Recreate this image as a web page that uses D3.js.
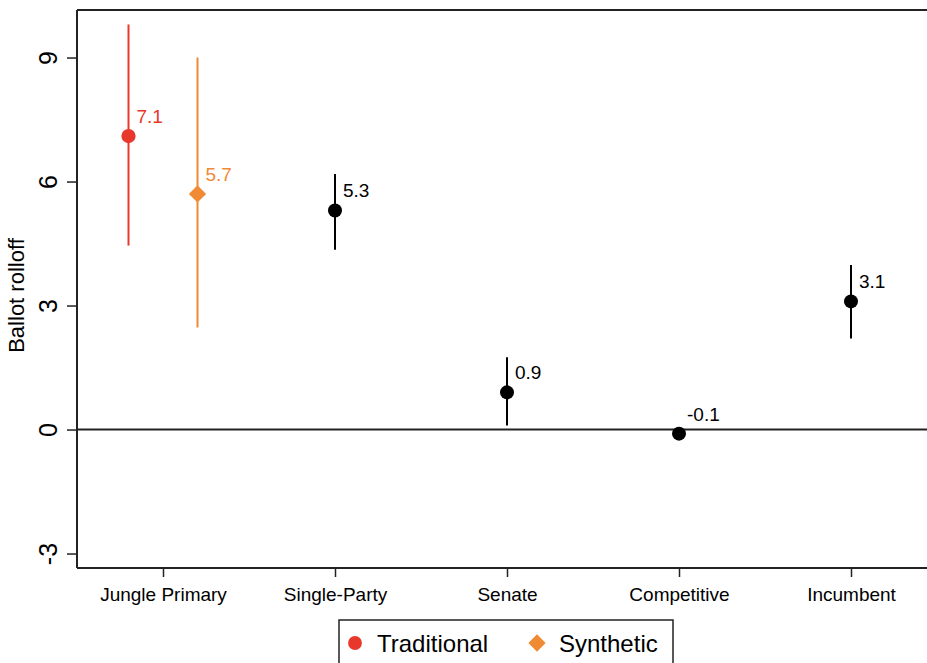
<!DOCTYPE html>
<html>
<head>
<meta charset="utf-8">
<script src="https://cdn.jsdelivr.net/npm/d3@7"></script>
<style>
  body { margin: 0; background: #fff; }
  svg { font-family: "Liberation Sans", Arial, Helvetica, sans-serif; }
</style>
</head>
<body>
<div id="chart"></div>
<script>
// categories on the x axis
var categories = ["Jungle Primary", "Single-Party", "Senate", "Competitive", "Incumbent"];
var yTicks = [-3, 0, 3, 6, 9];

// jungle primary estimates (two methods)
var jungleSeries = ["Traditional", "Synthetic"];
var jungleEst = [7.1, 5.7];
var jungleLo = [4.45, 2.47];
var jungleHi = [9.8, 9.0];
var jungleColors = ["#e8382b", "#f08a35"];

// other estimates
var otherCats = ["Single-Party", "Senate", "Competitive", "Incumbent"];
var otherEst = [5.3, 0.9, -0.1, 3.1];
var otherLo = [4.35, 0.1, -0.25, 2.2];
var otherHi = [6.18, 1.75, 0.05, 3.98];

var margin = { top: 10, right: 0, bottom: 95, left: 77 },
  width = 927 - margin.left - margin.right,
  height = 663 - margin.top - margin.bottom;

var svg = d3.select("#chart")
  .append("svg")
  .attr("width", 927)
  .attr("height", 663)
  .append("g")
  .attr("transform", "translate(" + margin.left + "," + margin.top + ")");

var y = d3.scaleLinear().domain([-3.35, 10.15]).range([height, 0]);
var x = d3.scalePoint().domain(categories).range([86, 774]);
var offset = 34.5;

// frame: left, top
svg.append("line").attr("x1", 0).attr("x2", 0).attr("y1", 0).attr("y2", height)
  .attr("stroke", "#222").attr("stroke-width", 2);
svg.append("line").attr("x1", 0).attr("x2", width).attr("y1", 0).attr("y2", 0)
  .attr("stroke", "#222").attr("stroke-width", 2);

// y axis
var yAxis = svg.append("g")
  .call(d3.axisLeft(y).tickValues(yTicks).tickSize(10).tickFormat(function (d) { return String(d); }));
yAxis.select(".domain").remove();
yAxis.selectAll(".tick line").attr("stroke", "#222").attr("stroke-width", 1.5);
yAxis.selectAll(".tick text")
  .attr("transform", "rotate(-90)")
  .attr("x", 0).attr("y", -29)
  .attr("dy", "0.35em")
  .attr("text-anchor", "middle")
  .style("font-size", "25px")
  .attr("fill", "#000");

// x axis
var xAxis = svg.append("g")
  .attr("transform", "translate(0," + height + ")")
  .call(d3.axisBottom(x).tickSize(9).tickPadding(11));
xAxis.select(".domain").remove();
xAxis.append("line").attr("x1", 0).attr("x2", width).attr("stroke", "#222").attr("stroke-width", 2);
xAxis.selectAll(".tick line").attr("stroke", "#222").attr("stroke-width", 1.5);
xAxis.selectAll(".tick text").style("font-size", "19px").attr("fill", "#000");

// zero line
svg.append("line")
  .attr("x1", 0).attr("x2", width)
  .attr("y1", y(0)).attr("y2", y(0))
  .attr("stroke", "#222").attr("stroke-width", 2);

// y title
svg.append("text")
  .attr("transform", "translate(" + (-53) + "," + (y(3) - 10) + ") rotate(-90)")
  .attr("text-anchor", "middle")
  .style("font-size", "22px")
  .text("Ballot rolloff");

// jungle primary points
var jx = function (i) { return x("Jungle Primary") + (i === 0 ? -offset : offset); };
jungleEst.forEach(function (v, i) {
  svg.append("line")
    .attr("x1", jx(i)).attr("x2", jx(i))
    .attr("y1", y(jungleLo[i])).attr("y2", y(jungleHi[i]))
    .attr("stroke", jungleColors[i]).attr("stroke-width", 2);
  svg.append("path")
    .attr("d", d3.symbol().type(i === 0 ? d3.symbolCircle : d3.symbolDiamond2).size(i === 0 ? 160 : 190)())
    .attr("transform", "translate(" + jx(i) + "," + y(v) + ")")
    .attr("fill", jungleColors[i]);
  svg.append("text")
    .attr("x", jx(i) + 8).attr("y", y(v) - 13)
    .style("font-size", "19px")
    .attr("fill", jungleColors[i])
    .text(v.toFixed(1));
});

// other points
otherEst.forEach(function (v, i) {
  var cx = x(otherCats[i]);
  svg.append("line")
    .attr("x1", cx).attr("x2", cx)
    .attr("y1", y(otherLo[i])).attr("y2", y(otherHi[i]))
    .attr("stroke", "#000").attr("stroke-width", 2);
  svg.append("circle")
    .attr("cx", cx).attr("cy", y(v)).attr("r", 7)
    .attr("fill", "#000");
  svg.append("text")
    .attr("x", cx + 8).attr("y", y(v) - 13)
    .style("font-size", "19px")
    .attr("fill", "#000")
    .text(v.toFixed(1));
});

// legend
var leg = d3.select("svg").append("g").attr("transform", "translate(339,620)");
leg.append("rect").attr("x", 0).attr("y", 0).attr("width", 334).attr("height", 60)
  .attr("fill", "none").attr("stroke", "#222").attr("stroke-width", 1.5);
var legX = [16, 198];
jungleSeries.forEach(function (s, i) {
  leg.append("path")
    .attr("d", d3.symbol().type(i === 0 ? d3.symbolCircle : d3.symbolDiamond2).size(i === 0 ? 150 : 190)())
    .attr("transform", "translate(" + legX[i] + ",23)")
    .attr("fill", jungleColors[i]);
  leg.append("text")
    .attr("x", legX[i] + 22).attr("y", 32)
    .style("font-size", "24px")
    .text(s);
});
</script>
</body>
</html>
